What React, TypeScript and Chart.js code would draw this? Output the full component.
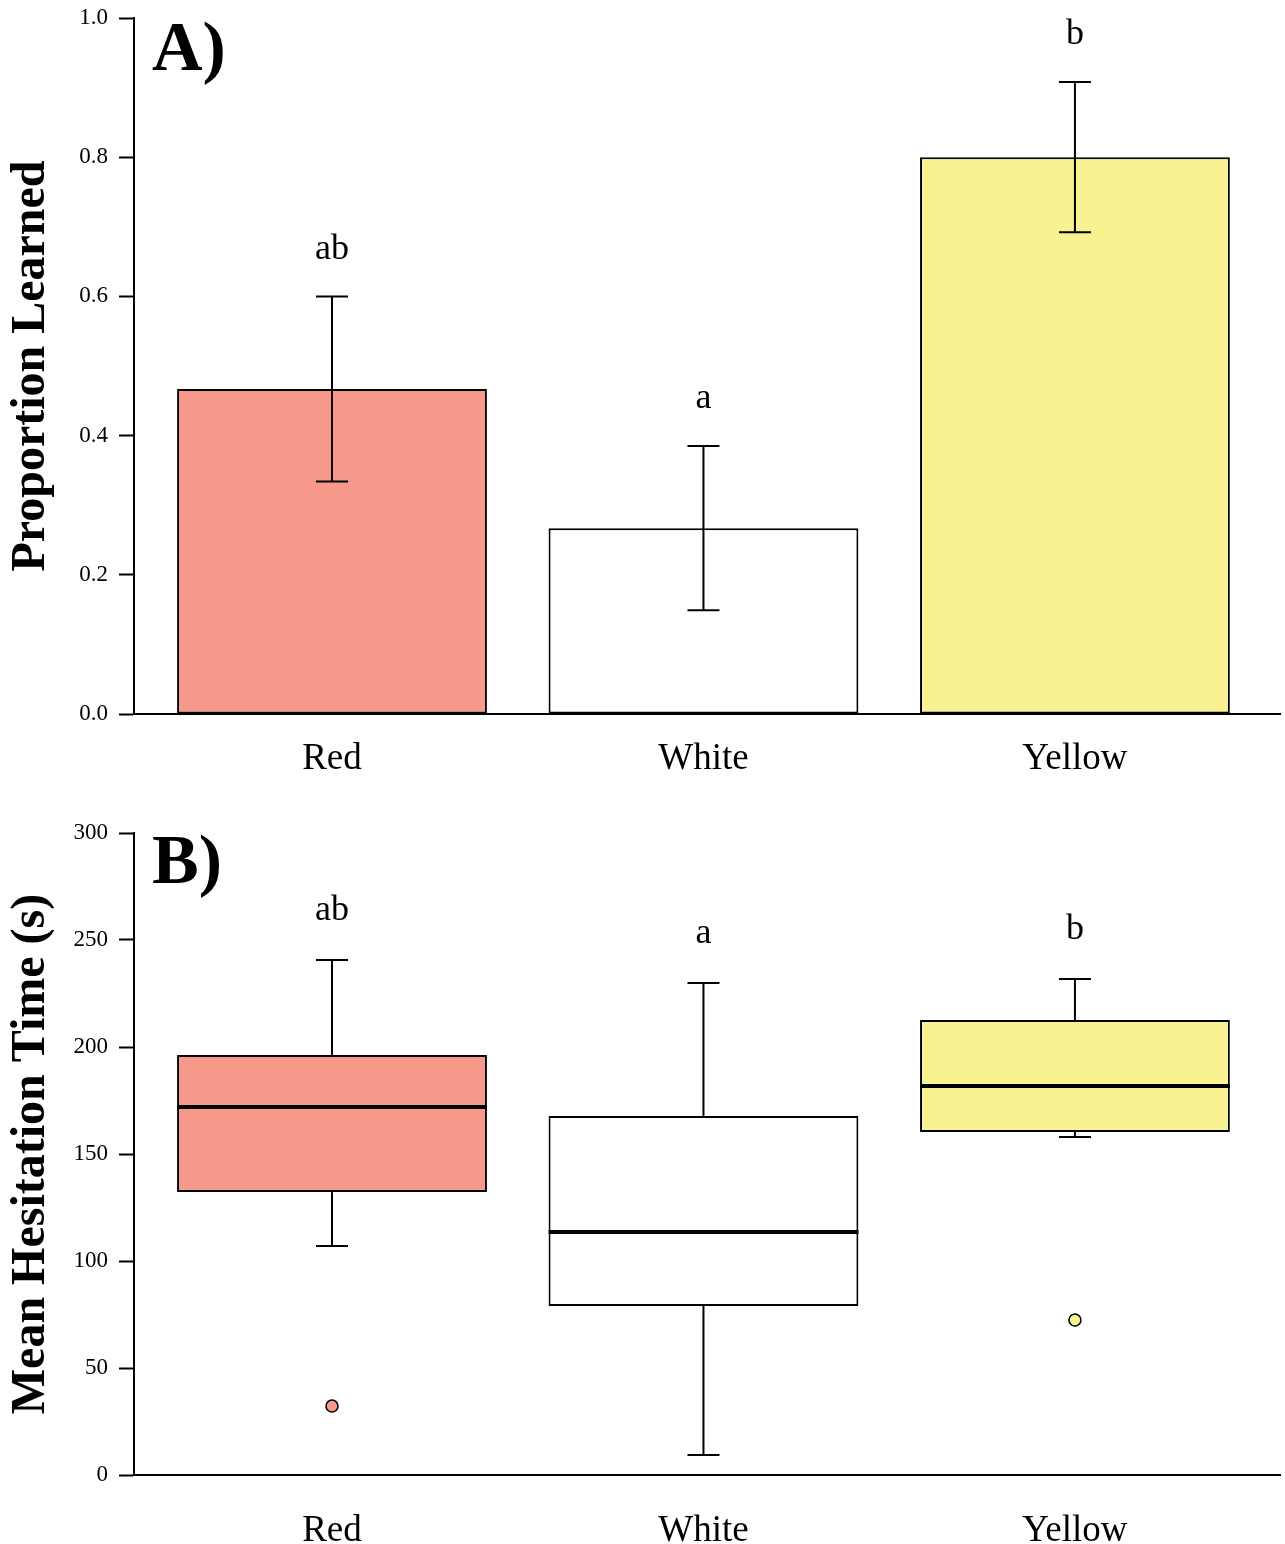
import React, { useEffect, useRef } from 'react';
import { Chart, registerables } from 'chart.js';

Chart.register(...registerables);

// ---------- Data ----------
const categories = ['Red', 'White', 'Yellow'];
const fillColors = ['#F7998A', '#FFFFFF', '#F8F290'];

// Panel A: proportion learned (mean ± SE)
const proportionMean = [0.467, 0.267, 0.8];
const proportionSE = [0.133, 0.118, 0.108];
const lettersA = ['ab', 'a', 'b'];

// Panel B: mean hesitation time (s) box plots
const whiskerLow = [107, 9.3, 157.9];
const quartile1 = [132.2, 79, 160.3];
const medians = [172, 113.6, 181.8];
const quartile3 = [196.3, 167.8, 212.6];
const whiskerHigh = [240.7, 229.9, 231.8];
const outlierCategory = ['Red', 'Yellow'];
const outlierValues = [32.2, 72.4];
const lettersB = ['ab', 'a', 'b'];

// ---------- Styles ----------
const SERIF = "'Liberation Serif', 'Times New Roman', serif";
const X_MIN = -0.533;
const X_MAX = 2.552;

function xScale(labelPadding: number, height: number) {
  return {
    type: 'linear' as const,
    min: X_MIN,
    max: X_MAX,
    offset: false,
    afterBuildTicks: (axis: any) => {
      axis.ticks = categories.map((_, i) => ({ value: i }));
    },
    afterFit: (s: any) => {
      s.height = height;
      s.paddingLeft = 0;
      s.paddingRight = 0;
    },
    ticks: {
      callback: (v: any) => categories[Math.round(Number(v))],
      font: { family: SERIF, size: 37 },
      color: '#000',
      padding: labelPadding,
      autoSkip: false,
      maxRotation: 0,
      minRotation: 0,
    },
    grid: { display: true, drawOnChartArea: false, drawTicks: false, offset: false },
    border: { display: true, color: '#000', width: 2 },
  };
}

function yScale(min: number, max: number, step: number, title: string, decimals: number) {
  return {
    type: 'linear' as const,
    min,
    max,
    afterFit: (s: any) => {
      s.width = 134;
      s.paddingTop = 0;
      s.paddingBottom = 0;
    },
    ticks: {
      stepSize: step,
      callback: (v: any) => Number(v).toFixed(decimals),
      font: { family: SERIF, size: 23 },
      color: '#000',
      padding: 11,
    },
    grid: {
      display: true,
      drawOnChartArea: false,
      drawTicks: true,
      tickLength: 15,
      tickColor: '#000',
      tickWidth: 2,
    },
    border: { display: true, color: '#000', width: 2 },
    title: {
      display: true,
      text: title,
      font: { family: SERIF, size: 48, weight: 'bold' as const },
      color: '#000',
      padding: { top: 3, bottom: 0 },
    },
  };
}

function panelLabel(ctx: CanvasRenderingContext2D, chart: any, text: string, dy: number) {
  const { left, top } = chart.chartArea;
  ctx.save();
  ctx.fillStyle = '#000';
  ctx.font = `bold 70px ${SERIF}`;
  ctx.textAlign = 'left';
  ctx.textBaseline = 'alphabetic';
  ctx.fillText(text, left + 18, top + dy);
  ctx.restore();
}

function letter(ctx: CanvasRenderingContext2D, text: string, x: number, y: number) {
  ctx.save();
  ctx.fillStyle = '#000';
  ctx.font = `36px ${SERIF}`;
  ctx.textAlign = 'center';
  ctx.textBaseline = 'middle';
  ctx.fillText(text, x, y);
  ctx.restore();
}

function line(ctx: CanvasRenderingContext2D, x1: number, y1: number, x2: number, y2: number, w: number) {
  ctx.beginPath();
  ctx.lineWidth = w;
  ctx.strokeStyle = '#000';
  ctx.moveTo(x1, y1);
  ctx.lineTo(x2, y2);
  ctx.stroke();
}

const errorBarPlugin = {
  id: 'errorBars',
  afterDatasetsDraw(chart: any) {
    const ctx = chart.ctx;
    const y = chart.scales.y;
    const meta = chart.getDatasetMeta(0);
    meta.data.forEach((bar: any, i: number) => {
      const top = y.getPixelForValue(proportionMean[i] + proportionSE[i]);
      const bot = y.getPixelForValue(proportionMean[i] - proportionSE[i]);
      ctx.save();
      line(ctx, bar.x, top, bar.x, bot, 2);
      line(ctx, bar.x - 16, top, bar.x + 16, top, 2);
      line(ctx, bar.x - 16, bot, bar.x + 16, bot, 2);
      ctx.restore();
      letter(ctx, lettersA[i], bar.x, top - 47);
    });
    panelLabel(ctx, chart, 'A)', 52);
  },
};

const boxPlugin = {
  id: 'boxParts',
  beforeDatasetsDraw(chart: any) {
    const ctx = chart.ctx;
    const y = chart.scales.y;
    const meta = chart.getDatasetMeta(0);
    meta.data.forEach((bar: any, i: number) => {
      const hi = y.getPixelForValue(whiskerHigh[i]);
      const lo = y.getPixelForValue(whiskerLow[i]);
      const q1 = y.getPixelForValue(quartile1[i]);
      const q3 = y.getPixelForValue(quartile3[i]);
      ctx.save();
      line(ctx, bar.x, q3, bar.x, hi, 2);
      line(ctx, bar.x - 16, hi, bar.x + 16, hi, 2);
      line(ctx, bar.x, q1, bar.x, lo, 2);
      line(ctx, bar.x - 16, lo, bar.x + 16, lo, 2);
      ctx.restore();
    });
  },
  afterDatasetsDraw(chart: any) {
    const ctx = chart.ctx;
    const y = chart.scales.y;
    const meta = chart.getDatasetMeta(0);
    meta.data.forEach((bar: any, i: number) => {
      const m = y.getPixelForValue(medians[i]);
      ctx.save();
      line(ctx, bar.x - bar.width / 2, m, bar.x + bar.width / 2, m, 4);
      ctx.restore();
      const hi = y.getPixelForValue(whiskerHigh[i]);
      letter(ctx, lettersB[i], bar.x, hi - 49);
    });
    panelLabel(ctx, chart, 'B)', 50);
  },
};

export default function App() {
  const topRef = useRef<HTMLCanvasElement>(null);
  const botRef = useRef<HTMLCanvasElement>(null);

  useEffect(() => {
    const top = new Chart(topRef.current as HTMLCanvasElement, {
      type: 'bar',
      data: {
        datasets: [
          {
            data: categories.map((_, i) => ({ x: i, y: proportionMean[i] })) as any,
            backgroundColor: fillColors,
            borderColor: '#000',
            borderWidth: 2,
            borderSkipped: false,
            categoryPercentage: 1,
            barPercentage: 0.834,
          },
        ],
      },
      options: {
        responsive: false,
        animation: false,
        events: [],
        layout: { autoPadding: false, padding: { top: 18, right: 5, left: 0, bottom: 0 } },
        plugins: { legend: { display: false }, tooltip: { enabled: false } },
        scales: {
          x: xScale(23, 76) as any,
          y: yScale(0, 1, 0.2, 'Proportion Learned', 1) as any,
        },
      },
      plugins: [errorBarPlugin],
    });

    const bottom = new Chart(botRef.current as HTMLCanvasElement, {
      type: 'bar',
      data: {
        datasets: [
          {
            type: 'bar',
            data: categories.map((_, i) => ({ x: i, y: [quartile1[i], quartile3[i]] })) as any,
            backgroundColor: fillColors,
            borderColor: '#000',
            borderWidth: 2,
            borderSkipped: false,
            categoryPercentage: 1,
            barPercentage: 0.834,
          },
          {
            type: 'scatter',
            data: outlierValues.map((v, i) => ({ x: categories.indexOf(outlierCategory[i]), y: v })) as any,
            pointBackgroundColor: outlierCategory.map((c) => fillColors[categories.indexOf(c)]),
            pointBorderColor: '#000',
            pointBorderWidth: 1.5,
            pointRadius: 6,
            showLine: false,
          } as any,
        ],
      },
      options: {
        responsive: false,
        animation: false,
        events: [],
        layout: { autoPadding: false, padding: { top: 43, right: 5, left: 0, bottom: 0 } },
        plugins: { legend: { display: false }, tooltip: { enabled: false } },
        scales: {
          x: xScale(34, 69) as any,
          y: yScale(0, 300, 50, 'Mean Hesitation Time (s)', 0) as any,
        },
      },
      plugins: [boxPlugin],
    });

    return () => {
      top.destroy();
      bottom.destroy();
    };
  }, []);

  return (
    <div style={{ position: 'absolute', left: 0, top: 0, width: 1285, height: 1544, background: '#fff' }}>
      <canvas
        ref={topRef}
        width={1285}
        height={790}
        style={{ position: 'absolute', left: 0, top: 0, width: 1285, height: 790 }}
      />
      <canvas
        ref={botRef}
        width={1285}
        height={754}
        style={{ position: 'absolute', left: 0, top: 790, width: 1285, height: 754 }}
      />
    </div>
  );
}
